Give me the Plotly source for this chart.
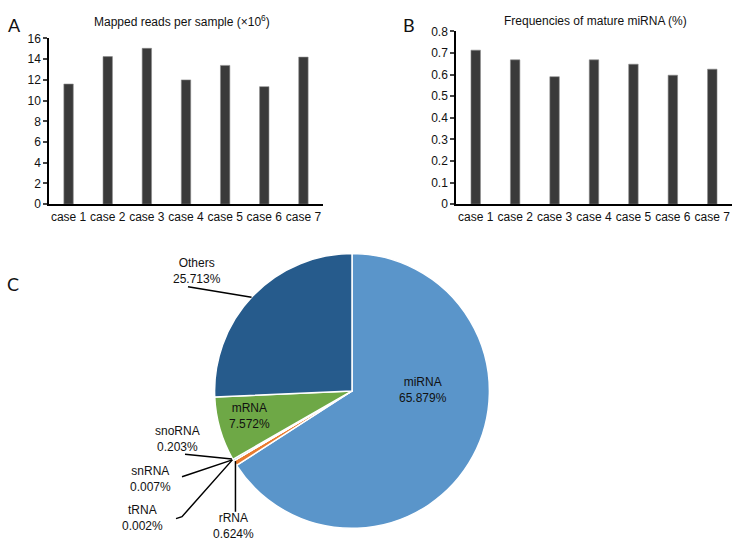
import math
import plotly.graph_objects as go

W, H = 734, 549

cases = ["case 1", "case 2", "case 3", "case 4", "case 5", "case 6", "case 7"]
mapped_reads = [11.6, 14.25, 15.05, 12.0, 13.4, 11.35, 14.2]
mature_freq = [0.713, 0.668, 0.590, 0.668, 0.648, 0.597, 0.625]

rna_types = ["miRNA", "rRNA", "tRNA", "snRNA", "snoRNA", "mRNA", "Others"]
rna_pct = [65.879, 0.624, 0.002, 0.007, 0.203, 7.572, 25.713]
rna_colors = ["#5A95CA", "#E97B2F", "#A5A5A5", "#FFC000", "#4472C4", "#6EA846", "#265B8C"]

yticks_a = [0, 2, 4, 6, 8, 10, 12, 14, 16]
yticks_b = [0, 0.1, 0.2, 0.3, 0.4, 0.5, 0.6, 0.7, 0.8]


def px(x):
    return x / W


def py(y):
    return 1 - y / H


FONT = "Liberation Sans, Arial, sans-serif"
BAR = "#3A3A3A"

fig = go.Figure()
fig.add_trace(go.Bar(x=cases, y=mapped_reads, marker=dict(color=BAR, line=dict(color="#8a8a8a", width=0.6)),
                     xaxis="x", yaxis="y", showlegend=False))
fig.add_trace(go.Bar(x=cases, y=mature_freq, marker=dict(color=BAR, line=dict(color="#8a8a8a", width=0.6)),
                     xaxis="x2", yaxis="y2", showlegend=False))

# pie geometry (pixels)
cx, cy, R = 352, 394, 141
fig.add_trace(go.Pie(labels=rna_types, values=rna_pct, sort=False, direction="clockwise", rotation=0,
                     marker=dict(colors=rna_colors, line=dict(color="white", width=1.5)),
                     textinfo="none", hoverinfo="label+percent", showlegend=False,
                     domain=dict(x=[px(cx - R), px(cx + R)], y=[py(cy + R), py(cy - R)])))

axis_common = dict(showline=True, linecolor="black", showgrid=False, zeroline=False,
                   tickfont=dict(family=FONT, size=12, color="#111"))

fig.update_layout(
    width=W, height=H, margin=dict(l=0, r=0, t=0, b=0, pad=0),
    paper_bgcolor="white", plot_bgcolor="white",
    bargap=0.76,
    font=dict(family=FONT, size=12, color="#111"),
    xaxis=dict(domain=[px(49), px(323)], anchor="y", linewidth=2, ticks="", **axis_common),
    yaxis=dict(domain=[py(202.3), py(32.3)], anchor="x", range=[0, 16], tickvals=yticks_a,
               ticks="outside", ticklen=4, tickwidth=1.5, linewidth=1.5, **axis_common),
    xaxis2=dict(domain=[px(456), px(732)], anchor="y2", linewidth=2, ticks="", **axis_common),
    yaxis2=dict(domain=[py(202.3), py(25)], anchor="x2", range=[0, 0.8], tickvals=yticks_b,
                ticktext=[("0" if v == 0 else f"{v:.1f}") for v in yticks_b],
                ticks="outside", ticklen=4, tickwidth=1.5, linewidth=1.5, **axis_common),
)


def note(text, x, y, size=12, family=FONT):
    return dict(text=text, x=px(x), y=py(y), xref="paper", yref="paper", showarrow=False,
                xanchor="center", yanchor="middle", font=dict(family=family, size=size, color="#111"))


ann = []
for letter, (x, y) in zip(["A", "B", "C"], [(14, 18), (409, 18), (13, 284)]):
    ann.append(note(letter, x, y, size=18, family="Lato, sans-serif"))
ann.append(note("Mapped reads per sample (×10<sup>6</sup>)", 182, 14))
ann.append(note("Frequencies of mature miRNA (%)", 595, 14))

# pie slice angles from data
total = sum(rna_pct)
cum = 0
angles = {}
for name, v in zip(rna_types, rna_pct):
    a0 = cum / total * 360
    cum += v
    a1 = cum / total * 360
    angles[name] = (a0, a1)


def edge(theta, r=R):
    t = math.radians(theta)
    return cx + r * math.sin(t), cy - r * math.cos(t)


label_pos = {
    "miRNA": (423, 393), "mRNA": (250, 420),
    "Others": (197, 271), "snoRNA": (177, 443), "snRNA": (150, 484),
    "tRNA": (142, 524), "rRNA": (233, 533),
}
for name, v in zip(rna_types, rna_pct):
    x, y = label_pos[name]
    ann.append(note(f"{name}<br>{v:.3f}%", x, y))

shapes = []
leader = {
    "Others": [(188, 287)],
    "snoRNA": [(185, 459)],
    "snRNA": [(182, 482), (188, 480)],
    "tRNA": [(176, 525), (182, 523)],
    "rRNA": [(233, 518)],
}
for name, pts in leader.items():
    a0, a1 = angles[name]
    mid = (a0 + a1) / 2
    if name == "rRNA":
        ex, ey = edge(mid, R - 4)
        pts = [(ex, pts[0][1])]
    else:
        ex, ey = edge(mid, R - 2)
    allp = pts + [(ex, ey)]
    path = "M " + " L ".join(f"{px(a)},{py(b)}" for a, b in allp)
    shapes.append(dict(type="path", path=path, xref="paper", yref="paper",
                       line=dict(color="black", width=1.5)))

fig.update_layout(annotations=ann, shapes=shapes)
fig.write_html("out.html", config={"displayModeBar": False},
               post_script="document.body.style.margin='0px';document.body.style.padding='0px';")
